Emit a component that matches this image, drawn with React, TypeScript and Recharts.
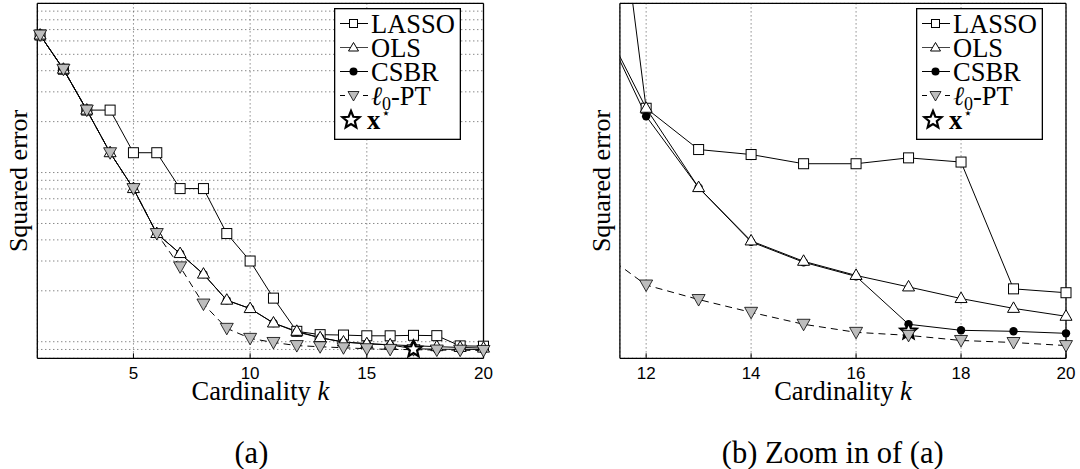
import React from 'react';
import { LineChart, Line, XAxis, YAxis, CartesianGrid, Legend } from 'recharts';

// squared error per cardinality k (log scale)
const cardinality = [1, 2, 3, 4, 5, 6, 7, 8, 9, 10, 11, 12, 13, 14, 15, 16, 17, 18, 19, 20];
const lassoError = [65, 40.8, 23.4, 23.4, 13.1, 13.1, 8.04, 8.04, 4.36, 3.0, 1.81, 1.152, 1.101, 1.095, 1.084, 1.084, 1.091, 1.086, 0.945, 0.941];
const olsError = [65, 40.8, 23.4, 13.1, 8.04, 4.36, 3.32, 2.51, 1.76, 1.57, 1.29, 1.152, 1.056, 0.996, 0.974, 0.959, 0.947, 0.935, 0.925, 0.917];
const csbrError = [65, 40.8, 23.4, 13.1, 8.04, 4.36, 3.32, 2.51, 1.76, 1.57, 1.29, 1.142, 1.056, 0.995, 0.973, 0.958, 0.909, 0.903, 0.902, 0.9];
const l0ptError = [65, 40.8, 23.4, 13.1, 8.04, 4.36, 2.77, 1.67, 1.2, 1.047, 0.99, 0.949, 0.934, 0.921, 0.909, 0.901, 0.898, 0.893, 0.891, 0.888];
const trueK = 17;
const trueError = 0.902;

const leftXTicks = [5, 10, 15, 20];
const leftMajorTicks = [1, 10];
const leftGridTicks = [0.9, 1, 2, 3, 4, 5, 6, 7, 8, 9, 10, 20, 30, 40, 50, 60, 70, 80, 90];
const zoomXTicks = [12, 14, 16, 18, 20];
const zoomYTicks = [0.9, 1];

const rows = cardinality.map((k, i) => ({
  k,
  lasso: lassoError[i],
  ols: olsError[i],
  csbr: csbrError[i],
  l0pt: l0ptError[i],
  star: k === trueK ? trueError : null,
}));
const zoomRows = rows.filter((r) => r.k >= 12);

const serif = 'Liberation Serif, DejaVu Serif, Times New Roman, serif';
const sans = 'Liberation Sans, Arial, Helvetica, sans-serif';
const gray = '#bdbdbd';

const ok = (p: any) => Number.isFinite(p.cx) && Number.isFinite(p.cy);

const SquareDot = (p: any) =>
  ok(p) ? (
    <rect key={p.key} x={p.cx - 5} y={p.cy - 5} width={10} height={10} fill="#fff" stroke="#000" strokeWidth={1} />
  ) : (
    <g key={p.key} />
  );

const TriangleDot = (p: any) =>
  ok(p) ? (
    <polygon key={p.key} points={`${p.cx},${p.cy - 6.5} ${p.cx - 6},${p.cy + 4} ${p.cx + 6},${p.cy + 4}`} fill="#fff" stroke="#000" strokeWidth={1} />
  ) : (
    <g key={p.key} />
  );

const CircleDot = (p: any) =>
  ok(p) ? <circle key={p.key} cx={p.cx} cy={p.cy} r={4.2} fill="#000" /> : <g key={p.key} />;

const DownDot = (p: any) =>
  ok(p) ? (
    <polygon key={p.key} points={`${p.cx - 6.5},${p.cy - 5} ${p.cx + 6.5},${p.cy - 5} ${p.cx},${p.cy + 6.5}`} fill={gray} stroke="#000" strokeWidth={0.8} />
  ) : (
    <g key={p.key} />
  );

const starPoints = (cx: number, cy: number, R: number, r: number) => {
  const pts: string[] = [];
  for (let i = 0; i < 10; i++) {
    const a = -Math.PI / 2 + (i * Math.PI) / 5;
    const d = i % 2 === 0 ? R : r;
    pts.push(`${cx + d * Math.cos(a)},${cy + d * Math.sin(a)}`);
  }
  return pts.join(' ');
};

const StarDot = (p: any) =>
  ok(p) ? (
    <polygon key={p.key} points={starPoints(p.cx, p.cy, 8.5, 3.8)} fill="#fff" stroke="#000" strokeWidth={2.2} />
  ) : (
    <g key={p.key} />
  );

const LegendBox = () => {
  const ys = [15.5, 39.5, 63.5, 87.5, 112];
  const mx = 19.5;
  const tx = 37;
  const txt = { fontFamily: serif, fontSize: 26.5, fill: '#000' };
  return (
    <svg width={127} height={132} style={{ display: 'block' }}>
      <rect x={0.65} y={0.65} width={125.7} height={130.7} fill="#fff" stroke="#000" strokeWidth={1.3} />
      <line x1={6} x2={34} y1={ys[0]} y2={ys[0]} stroke="#000" strokeWidth={1} />
      <rect x={mx - 4} y={ys[0] - 4} width={8} height={8} fill="#fff" stroke="#000" strokeWidth={1} />
      <text x={tx} y={ys[0] + 9} {...txt}>LASSO</text>

      <line x1={6} x2={34} y1={ys[1]} y2={ys[1]} stroke="#444" strokeWidth={1} />
      <polygon points={`${mx},${ys[1] - 5} ${mx - 5},${ys[1] + 3.5} ${mx + 5},${ys[1] + 3.5}`} fill="#fff" stroke="#000" strokeWidth={1} />
      <text x={tx} y={ys[1] + 9} {...txt}>OLS</text>

      <line x1={6} x2={34} y1={ys[2]} y2={ys[2]} stroke="#000" strokeWidth={1} />
      <circle cx={mx} cy={ys[2]} r={4} fill="#000" />
      <text x={tx} y={ys[2] + 9} {...txt}>CSBR</text>

      <line x1={6} x2={11} y1={ys[3]} y2={ys[3]} stroke="#000" strokeWidth={1} />
      <line x1={29} x2={34} y1={ys[3]} y2={ys[3]} stroke="#000" strokeWidth={1} />
      <polygon points={`${mx - 5.5},${ys[3] - 4} ${mx + 5.5},${ys[3] - 4} ${mx},${ys[3] + 5.5}`} fill={gray} stroke="#000" strokeWidth={0.8} />
      <text x={tx} y={ys[3] + 9} {...txt}>
        <tspan fontStyle="italic">ℓ</tspan>
        <tspan fontSize={18} dy={5}>0</tspan>
        <tspan dy={-5}>-PT</tspan>
      </text>

      <polygon points={starPoints(17, ys[4], 9, 4)} fill="#fff" stroke="#000" strokeWidth={2.2} />
      <text x={33} y={ys[4] + 9} {...txt}>
        <tspan fontWeight="bold">x</tspan>
        <tspan fontSize={15} dx={1} dy={-11} fontFamily="DejaVu Sans, sans-serif">⋆</tspan>
      </text>
    </svg>
  );
};

const XTitle = ({ cx }: any) => (
  <text x={cx} y={400} textAnchor="middle" fontFamily={serif} fontSize={26.5} fill="#000">
    Cardinality <tspan fontStyle="italic">k</tspan>
  </text>
);

const YTitle = ({ cx, cy }: any) => (
  <text x={cx} y={cy} transform={`rotate(-90 ${cx} ${cy})`} textAnchor="middle" dominantBaseline="central" fontFamily={serif} fontSize={26} fill="#000">
    Squared error
  </text>
);

const frame = { stroke: '#000', strokeWidth: 1.3 };
const tickMark = { stroke: '#000', strokeWidth: 1 };
const tickText = { fill: '#000', fontSize: 17, fontFamily: sans };
const grid = { stroke: '#555', strokeDasharray: '1 3', strokeWidth: 1 };

const leftX: [number, number] = [0.88, 20];
const leftY: [number, number] = [0.798, 100];
const zoomX: [number, number] = [11.5, 20];
const zoomY: [number, number] = [0.8757, 1.2924];

const OverviewChart = () => (
  <LineChart width={540} height={420} data={rows} margin={{ top: 2.4, right: 55.5, bottom: 31.7, left: 36.3 }}>
    <CartesianGrid {...grid} yAxisId="grid" vertical horizontal />
    <XAxis dataKey="k" type="number" domain={leftX} ticks={leftXTicks} interval={0} height={30}
      tickSize={-5} tickMargin={13.5} tickLine={tickMark} axisLine={frame} tick={tickText}
      label={<XTitle cx={260.4} />} />
    <XAxis xAxisId="top" orientation="top" dataKey="k" type="number" domain={leftX} ticks={leftXTicks} interval={0}
      height={1} tickSize={-5} tick={false} tickLine={tickMark} axisLine={frame} allowDataOverflow />
    <YAxis scale="log" type="number" domain={leftY} ticks={leftMajorTicks} interval={0} width={1}
      tickSize={-5} tick={false} tickLine={tickMark} axisLine={frame} label={<YTitle cx={18} cy={181} />} />
    <YAxis yAxisId="grid" hide scale="log" type="number" domain={leftY} ticks={leftGridTicks} interval={0} allowDataOverflow />
    <YAxis yAxisId="right" orientation="right" scale="log" type="number" domain={leftY} ticks={leftMajorTicks} interval={0}
      width={1} tickSize={-5} tick={false} tickLine={tickMark} axisLine={frame} allowDataOverflow />
    <Line type="linear" dataKey="lasso" stroke="#000" strokeWidth={1} dot={SquareDot} activeDot={false} isAnimationActive={false} />
    <Line type="linear" dataKey="csbr" stroke="#000" strokeWidth={1} dot={CircleDot} activeDot={false} isAnimationActive={false} />
    <Line type="linear" dataKey="ols" stroke="#000" strokeWidth={1} dot={TriangleDot} activeDot={false} isAnimationActive={false} />
    <Line type="linear" dataKey="l0pt" stroke="#000" strokeWidth={1} strokeDasharray="7 5" dot={DownDot} activeDot={false} isAnimationActive={false} />
    <Line type="linear" dataKey="star" stroke="none" dot={StarDot} activeDot={false} isAnimationActive={false} />
    <Legend content={<LegendBox />} layout="horizontal" verticalAlign="middle" width={127} height={132}
      wrapperStyle={{ left: 334.3, top: 8, width: 127, height: 132 }} />
  </LineChart>
);

const ZoomChart = () => (
  <LineChart width={540} height={420} data={rows} margin={{ top: 2.4, right: 13, bottom: 31.7, left: 78.9 }}>
    <CartesianGrid {...grid} vertical horizontal />
    <XAxis dataKey="k" type="number" domain={zoomX} ticks={zoomXTicks} interval={0} height={30}
      tickSize={-5} tickMargin={13.5} tickLine={tickMark} axisLine={frame} tick={tickText}
      label={<XTitle cx={303} />} />
    <XAxis xAxisId="top" orientation="top" dataKey="k" type="number" domain={zoomX} ticks={zoomXTicks} interval={0}
      height={1} tickSize={-5} tick={false} tickLine={tickMark} axisLine={frame} allowDataOverflow />
    <XAxis xAxisId="clip" hide dataKey="k" type="number" domain={zoomX} allowDataOverflow />
    <YAxis scale="log" type="number" domain={zoomY} ticks={zoomYTicks} interval={0} width={1}
      tickSize={-5} tick={false} tickLine={tickMark} axisLine={frame} label={<YTitle cx={61} cy={181} />} />
    <YAxis yAxisId="right" orientation="right" scale="log" type="number" domain={zoomY} ticks={zoomYTicks} interval={0}
      width={1} tickSize={-5} tick={false} tickLine={tickMark} axisLine={frame} allowDataOverflow />
    <YAxis yAxisId="clip" hide scale="log" type="number" domain={zoomY} allowDataOverflow />
    {/* curves, clipped to the zoom window */}
    <Line xAxisId="clip" yAxisId="clip" type="linear" dataKey="lasso" stroke="#000" strokeWidth={1} dot={false} activeDot={false} isAnimationActive={false} />
    <Line xAxisId="clip" yAxisId="clip" type="linear" dataKey="csbr" stroke="#000" strokeWidth={1} dot={false} activeDot={false} isAnimationActive={false} />
    <Line xAxisId="clip" yAxisId="clip" type="linear" dataKey="ols" stroke="#000" strokeWidth={1} dot={false} activeDot={false} isAnimationActive={false} />
    <Line xAxisId="clip" yAxisId="clip" type="linear" dataKey="l0pt" stroke="#000" strokeWidth={1} strokeDasharray="7 5" dot={false} activeDot={false} isAnimationActive={false} />
    {/* markers for the points inside the window */}
    <Line data={zoomRows} type="linear" dataKey="lasso" stroke="none" dot={SquareDot} activeDot={false} isAnimationActive={false} />
    <Line data={zoomRows} type="linear" dataKey="csbr" stroke="none" dot={CircleDot} activeDot={false} isAnimationActive={false} />
    <Line data={zoomRows} type="linear" dataKey="ols" stroke="none" dot={TriangleDot} activeDot={false} isAnimationActive={false} />
    <Line data={zoomRows} type="linear" dataKey="star" stroke="none" dot={StarDot} activeDot={false} isAnimationActive={false} />
    <Line data={zoomRows} type="linear" dataKey="l0pt" stroke="none" dot={DownDot} activeDot={false} isAnimationActive={false} />
    <Legend content={<LegendBox />} layout="horizontal" verticalAlign="middle" width={127} height={132}
      wrapperStyle={{ left: 376.4, top: 8, width: 127, height: 132 }} />
  </LineChart>
);

const caption = { position: 'absolute' as const, top: 435, fontFamily: serif, fontSize: 30.5, color: '#000', whiteSpace: 'nowrap' as const, transform: 'translateX(-50%)', lineHeight: '36px' };

export default function App() {
  return (
    <div style={{ position: 'absolute', left: 0, top: 0, width: 1080, height: 469, background: '#fff', overflow: 'hidden' }}>
      <div style={{ position: 'absolute', left: 0, top: 0 }}>
        <OverviewChart />
      </div>
      <div style={{ position: 'absolute', left: 540, top: 0 }}>
        <ZoomChart />
      </div>
      <div style={{ ...caption, left: 251.4 }}>(a)</div>
      <div style={{ ...caption, left: 832.7 }}>(b) Zoom in of (a)</div>
    </div>
  );
}
